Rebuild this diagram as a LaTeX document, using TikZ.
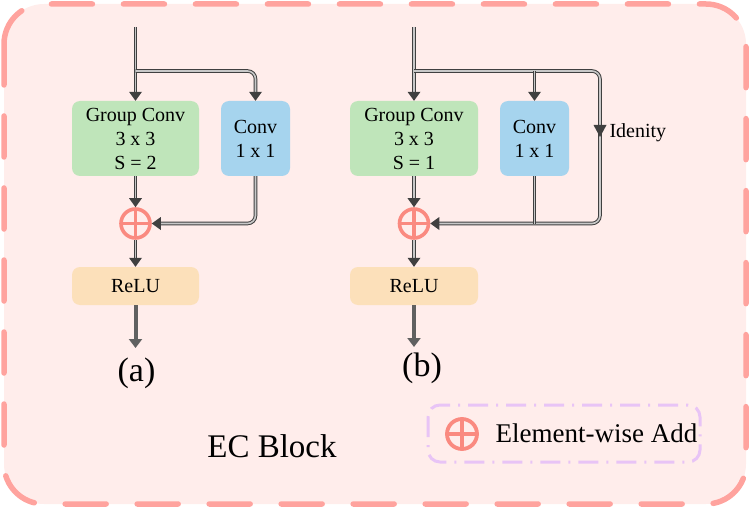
\documentclass[tikz,border=0pt]{standalone}
\usepackage{fontspec}
\setmainfont{LiberationSerif}[Extension=.ttf,UprightFont=*-Regular,BoldFont=*-Bold]
\usetikzlibrary{arrows.meta,decorations.markings}
\definecolor{bgc}{RGB}{255,237,235}
\definecolor{brd}{RGB}{255,163,158}
\definecolor{grn}{RGB}{191,229,186}
\definecolor{blu}{RGB}{166,212,238}
\definecolor{org}{RGB}{252,224,186}
\definecolor{plc}{RGB}{250,138,128}
\definecolor{lav}{RGB}{232,196,246}
\definecolor{arr}{RGB}{64,64,64}
\definecolor{arrg}{RGB}{96,96,96}
\definecolor{din}{RGB}{200,200,200}
\begin{document}
\begin{tikzpicture}[x=1pt,y=-1pt,
 box/.style={rounded corners=8pt, inner sep=0pt, align=center, font=\fontsize{20}{24}\selectfont},
 tip/.style={shorten >=6pt, postaction={decorate, decoration={markings, mark=at position 1 with {\fill[arr] (0pt,0pt) -- (-9pt,6.5pt) -- (-9pt,-6.5pt) -- cycle;}}}},
 stip/.style={-{Triangle[width=13pt,length=9pt]}},
 dl/.style={draw=arr, double=din, double distance=1.6pt, line width=1pt},
 addop/.style={circle, draw=plc, line width=3.6pt, minimum size=29pt, inner sep=0pt,
   path picture={\draw[plc,line width=3.6pt] (path picture bounding box.north)--(path picture bounding box.south) (path picture bounding box.west)--(path picture bounding box.east);}},
 lbl/.style={font=\fontsize{34}{38}\selectfont, anchor=base}
]
\useasboundingbox (0,0) rectangle (750,508);
\draw[brd, line width=5.5pt, fill=bgc, rounded corners=40pt, dash pattern=on 41pt off 31pt, line cap=round] (4,4) rectangle (746,504);

% (a)
\node[box, fill=grn, minimum width=127pt, minimum height=75pt] (gc1) at (135.5,138.5) {Group Conv\\3 x 3\\S = 2};
\node[box, fill=blu, minimum width=69pt, minimum height=75pt] (c1) at (255.5,138.5) {Conv\\1 x 1};
\node[addop] (p1) at (135.5,223.5) {};
\node[box, fill=org, minimum width=127pt, minimum height=38pt] (r1) at (135.5,286) {ReLU};
\coordinate (in1) at (135.5,27);
\coordinate (br1) at (135.5,71);
\coordinate (out1) at (135.5,348);
\draw[dl,tip] (in1) -- (gc1.north);
\draw[dl,rounded corners=8pt,shorten >=6pt] (br1) -- (c1.north |- br1) -- (c1.north);
\fill[arr] (c1.north) -- ++(-6.5,-9) -- ++(13,0) -- cycle;
\draw[dl,tip] (gc1.south) -- (p1.north);
\draw[dl,rounded corners=8pt,shorten >=6pt] (c1.south) -- (c1.south |- p1) -- (p1.east);
\fill[arr] (p1.east) -- ++(9,-6.5) -- ++(0,13) -- cycle;
\draw[dl,tip] (p1.south) -- (r1.north);
\draw[arrg, line width=4pt, stip] (r1.south) -- (out1);
\node[lbl] (la) at (136.5,381) {(a)};

% (b)
\node[box, fill=grn, minimum width=128pt, minimum height=75pt] (gc2) at (414,138.5) {Group Conv\\3 x 3\\S = 1};
\node[box, fill=blu, minimum width=69pt, minimum height=75pt] (c2) at (534.5,138.5) {Conv\\1 x 1};
\node[addop] (p2) at (414,223.5) {};
\node[box, fill=org, minimum width=128pt, minimum height=38pt] (r2) at (414,286) {ReLU};
\coordinate (in2) at (414,27);
\coordinate (br2) at (414,71);
\coordinate (cr) at (600,71);
\coordinate (out2) at (414,347);
\draw[dl,tip] (in2) -- (gc2.north);
\draw[dl,rounded corners=8pt,shorten >=6pt] (br2) -- (cr) -- (cr |- p2) -- (p2.east);
\fill[arr] (p2.east) -- ++(9,-6.5) -- ++(0,13) -- cycle;
\draw[dl,tip] (c2.north |- br2) -- (c2.north);
\draw[dl] (c2.south) -- (c2.south |- p2);
\draw[dl,tip] (gc2.south) -- (p2.north);
\draw[dl,tip] (p2.south) -- (r2.north);
\draw[arrg, line width=4pt, stip] (r2.south) -- (out2);
\fill[arr] (593.5,125) -- (606.5,125) -- (600,137) -- cycle;
\node[font=\fontsize{20}{24}\selectfont, anchor=west] (id) at (606,133) {Idenity};
\node[lbl] (lb) at (422,376) {(b)};

% title and legend
\node[font=\fontsize{33}{38}\selectfont, anchor=base] (ec) at (272,457) {EC Block};
\draw[lav, line width=3pt, rounded corners=12pt, dash pattern=on 20pt off 8pt on 2pt off 8pt] (428,405) rectangle (700,462);
\node[addop, minimum size=30pt, line width=3.8pt] (lp) at (462,434) {};
\node[font=\fontsize{27}{30}\selectfont, anchor=base west] (lt) at (492,442) {Element-wise Add};
\end{tikzpicture}
\end{document}
